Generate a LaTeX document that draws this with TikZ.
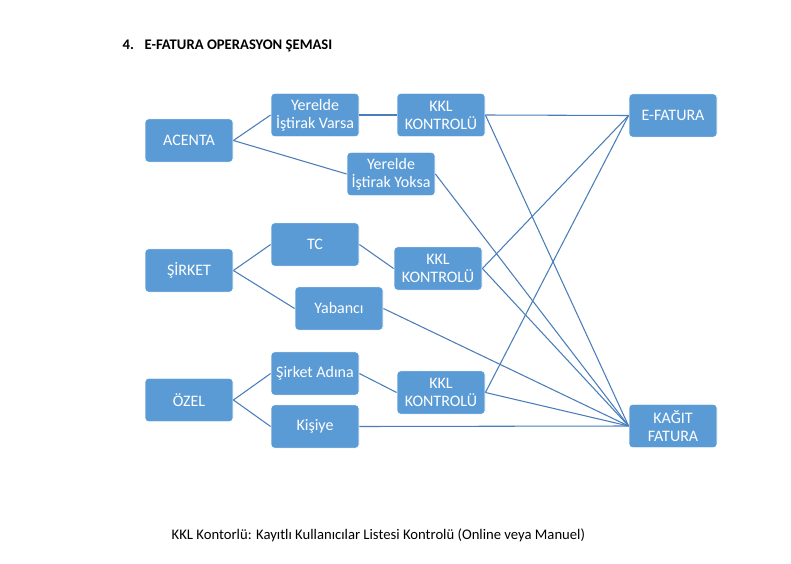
\documentclass[tikz,border=0pt]{standalone}
\usepackage{fontspec}
\setmainfont{Carlito}
\definecolor{boxblue}{HTML}{5B9BD5}
\definecolor{lineblue}{HTML}{4A7EBB}

\begin{document}
\begin{tikzpicture}[x=0.75pt,y=-0.75pt,
  box/.style={rectangle,rounded corners=2.5pt,fill=boxblue,draw=white,line width=0.6pt,
    text=white,minimum width=66pt,minimum height=32.5pt,inner sep=1pt,align=center,
    font=\fontsize{12}{13.5}\selectfont},
  link/.style={lineblue,line width=0.8pt}]
  \useasboundingbox[fill=white] (0,0) rectangle (791,563);

  \node[anchor=base west,font=\bfseries\fontsize{11}{13}\selectfont] (num) at (118,50) {4.};
  \node[anchor=base west,font=\bfseries\fontsize{11}{13}\selectfont] (title) at (140,50) {E-FATURA OPERASYON ŞEMASI};

  \node[box] (acenta) at (189,140.5) {ACENTA};
  \node[box] (varsa) at (315,115) {Yerelde\\İştirak Varsa};
  \node[box] (kkla) at (441,115) {KKL\\KONTROLÜ};
  \node[box] (yoksa) at (391,174) {Yerelde\\İştirak Yoksa};
  \node[box] (efatura) at (673,115.5) {E-FATURA};

  \node[box] (sirket) at (189,270.5) {ŞİRKET};
  \node[box] (tc) at (315,244.5) {TC};
  \node[box] (kklb) at (438,268.5) {KKL\\KONTROLÜ};
  \node[box] (yabanci) at (339,308.5) {Yabancı};

  \node[box] (ozel) at (189,400) {ÖZEL};
  \node[box] (adina) at (315,373.5) {Şirket Adına};
  \node[box] (kklc) at (441,392.5) {KKL\\KONTROLÜ};
  \node[box] (kisiye) at (315,426.5) {Kişiye};
  \node[box] (kagit) at (673,426) {KAĞIT\\FATURA};

  \draw[link] (acenta.east) -- (varsa.west);
  \draw[link] (acenta.east) -- (yoksa.west);
  \draw[link] (varsa.east) -- (kkla.west);
  \draw[link] (kkla.east) -- (efatura.west);
  \draw[link] (kkla.east) -- (kagit.west);
  \draw[link] (yoksa.east) -- (kagit.west);

  \draw[link] (sirket.east) -- (tc.west);
  \draw[link] (sirket.east) -- (yabanci.west);
  \draw[link] (tc.east) -- (kklb.west);
  \draw[link] (kklb.east) -- (efatura.west);
  \draw[link] (kklb.east) -- (kagit.west);
  \draw[link] (yabanci.east) -- (kagit.west);

  \draw[link] (ozel.east) -- (adina.west);
  \draw[link] (ozel.east) -- (kisiye.west);
  \draw[link] (adina.east) -- (kklc.west);
  \draw[link] (kklc.east) -- (efatura.west);
  \draw[link] (kklc.east) -- (kagit.west);
  \draw[link] (kisiye.east) -- (kagit.west);

  \node[anchor=base west,font=\fontsize{11}{13}\selectfont] (note) at (167,539) {KKL Kontorlü: Kayıtlı Kullanıcılar Listesi Kontrolü (Online veya Manuel)};
\end{tikzpicture}
\end{document}
